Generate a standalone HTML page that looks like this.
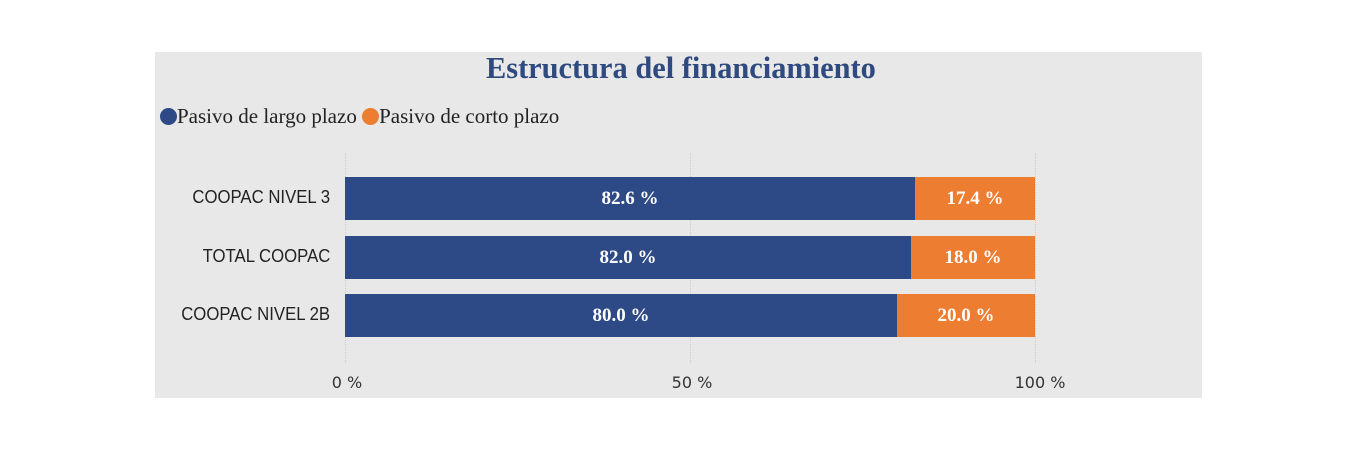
<!DOCTYPE html><html><head><style>
body{margin:0;width:1358px;height:462px;background:#fff;position:relative;overflow:hidden;font-family:"Liberation Serif",serif}
.p{position:absolute;left:155px;top:52px;width:1047px;height:346px;background:#e8e8e8}
.a{position:absolute;white-space:nowrap}
.b{position:absolute;height:43px;color:#fff;font-weight:bold;font-size:19px;display:flex;align-items:center;justify-content:center}
.g{position:absolute;top:153px;height:210px;border-left:1px dotted #ccc}
.l{position:absolute;right:1028px;font-family:"Liberation Sans",sans-serif;font-size:18px;color:#222;transform:scaleX(.93);transform-origin:right;white-space:nowrap}
.x{position:absolute;top:373px;font-family:"DejaVu Sans",sans-serif;font-size:16px;color:#333;transform:translateX(-50%)}
</style></head><body>
<div class="p"></div>
<div class="a" style="left:0;width:1362px;top:50px;text-align:center;font-size:31px;font-weight:bold;color:#2e4a7e"><span style="display:inline-block;transform:scaleX(.98)">Estructura del financiamiento</span></div>
<div class="a" style="left:160px;top:104px;font-size:21px;color:#222"><span style="display:inline-block;width:17px;height:17px;border-radius:50%;background:#2e4a86;vertical-align:-2px"></span>Pasivo de largo plazo <span style="display:inline-block;width:17px;height:17px;border-radius:50%;background:#ed7d31;vertical-align:-2px"></span>Pasivo de corto plazo</div>
<div class="g" style="left:345px"></div><div class="g" style="left:690px"></div><div class="g" style="left:1035px"></div>
<div class="l" style="top:187px">COOPAC NIVEL 3</div>
<div class="l" style="top:246px">TOTAL COOPAC</div>
<div class="l" style="top:304px">COOPAC NIVEL 2B</div>
<div class="b" style="left:345px;top:177px;width:570px;background:#2e4a86">82.6 %</div>
<div class="b" style="left:915px;top:177px;width:120px;background:#ed7d31">17.4 %</div>
<div class="b" style="left:345px;top:236px;width:566px;background:#2e4a86">82.0 %</div>
<div class="b" style="left:911px;top:236px;width:124px;background:#ed7d31">18.0 %</div>
<div class="b" style="left:345px;top:294px;width:552px;background:#2e4a86">80.0 %</div>
<div class="b" style="left:897px;top:294px;width:138px;background:#ed7d31">20.0 %</div>
<div class="x" style="left:347px">0 %</div><div class="x" style="left:692px">50 %</div><div class="x" style="left:1040px">100 %</div>
</body></html>
